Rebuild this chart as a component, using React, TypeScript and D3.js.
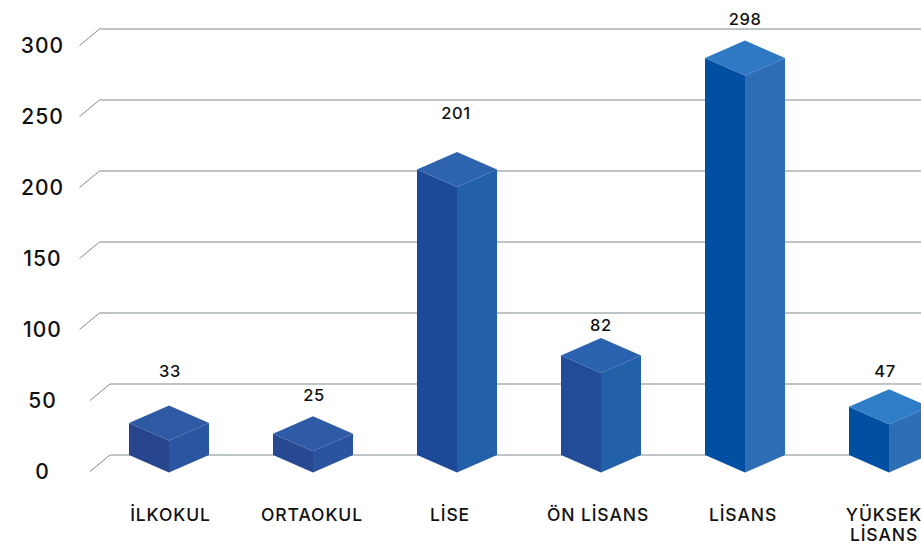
import React from "react";
import * as d3 from "d3";

const categories = ["İLKOKUL", "ORTAOKUL", "LİSE", "ÖN LİSANS", "LİSANS", "YÜKSEK LİSANS"];
const valueLabels = [33, 25, 201, 82, 298, 47];
// Drawn bar height as read against the axis: the picture's bars are not to scale with their labels.
const drawnLevels = [22.5, 15, 201, 70, 279.5, 34];
const yTicks = [0, 50, 100, 150, 200, 250, 300];
const stubStarts = [90, 90, 79.5, 79.5, 79.5, 79.5, 79.5];
const topFaces = ["#2f5aa3", "#2f5aa6", "#2d63b0", "#2a62b0", "#2e78c4", "#2e7dc6"];
const leftFaces = ["#25448c", "#284a92", "#1f4a98", "#204c98", "#0650a2", "#0650a2"];
const rightFaces = ["#2c55a0", "#2a52a0", "#2360aa", "#2160aa", "#2f6eb6", "#2f6eb6"];
const labelOffsets = [1, 1, -1, 0, 0, -4];
const labelYs = [371, 395, 113, 325, 19, 371];
const categoryOffsets = [1.5, -1, -7, -3, -2, -5];

const W = 921;
const H = 550;
const font = "Inter, 'DejaVu Sans', sans-serif";

export default function App() {
  const y = d3.scaleLinear().domain([0, 300]).range([455, 29]);
  const x = d3.scalePoint<string>().domain(categories).range([169, 889]);
  const halfW = 40;
  const depth = 17.5;
  const line = d3.line();
  return (
    <svg width={W} height={H} viewBox={`0 0 ${W} ${H}`} style={{ position: "fixed", left: 0, top: 0, background: "#fff" }}>
      <defs>
        <filter id="soft" x="-5%" y="-5%" width="110%" height="110%">
          <feGaussianBlur stdDeviation="0.7" />
        </filter>
      </defs>
      {yTicks.map((t, i) => (
        <g key={t}>
          <path
            d={line([[stubStarts[i], y(t) + 16.5], [stubStarts[i] + 20, y(t)], [W, y(t)]]) as string}
            fill="none"
            stroke="#7f8b8b"
            strokeWidth={1}
          />
          <text x={42.5} y={y(t) + 16} dy="0.36em" textAnchor="middle" fontFamily={font} fontSize={21} fontWeight={500} letterSpacing={1} fill="#111">
            {t}
          </text>
        </g>
      ))}
      {categories.map((c, i) => {
        const cx = x(c) as number;
        const sideTop = y(drawnLevels[i]);
        const sideBot = y(0);
        const l = cx - halfW;
        const r = cx + halfW;
        return (
          <g key={c} filter="url(#soft)">
            <path d={line([[l, sideTop], [cx, sideTop + depth], [cx, sideBot + depth], [l, sideBot]]) + "Z"} fill={leftFaces[i]} />
            <path d={line([[cx, sideTop + depth], [r, sideTop], [r, sideBot], [cx, sideBot + depth]]) + "Z"} fill={rightFaces[i]} />
            <path d={line([[l, sideTop], [cx, sideTop - depth], [r, sideTop], [cx, sideTop + depth]]) + "Z"} fill={topFaces[i]} />
          </g>
        );
      })}
      {categories.map((c, i) => {
        const cx = x(c) as number;
        const words = c === "YÜKSEK LİSANS" ? c.split(" ") : [c];
        return (
          <g key={c}>
            <text x={cx + labelOffsets[i]} y={labelYs[i]} dy="0.36em" textAnchor="middle" fontFamily={font} fontSize={16.5} fontWeight={500} letterSpacing={0.6} fill="#111">
              {valueLabels[i]}
            </text>
            {words.map((w, k) => (
              <text key={w} x={cx + categoryOffsets[i]} y={515 + k * 20} dy="0.36em" textAnchor="middle" fontFamily={font} fontSize={17.5} fontWeight={500} letterSpacing={0.9} fill="#111">
                {w}
              </text>
            ))}
          </g>
        );
      })}
    </svg>
  );
}
